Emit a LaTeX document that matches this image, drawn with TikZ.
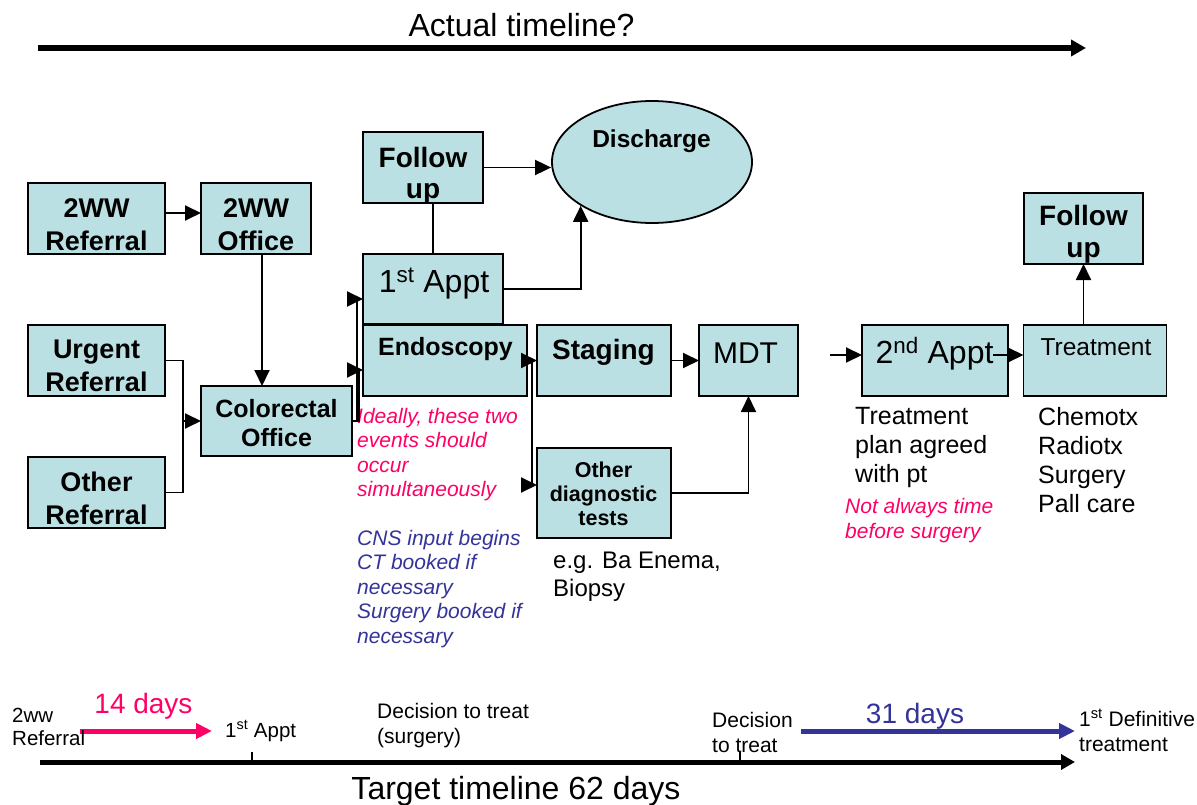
\documentclass[tikz,border=0pt]{standalone}
\usepackage{fontspec}
\setmainfont{Liberation Sans}
\usetikzlibrary{arrows.meta,shapes.geometric,calc}
\definecolor{boxfill}{RGB}{187,224,227}
\definecolor{pinkc}{RGB}{255,0,102}
\definecolor{bluec}{RGB}{51,51,153}
\newcommand\fsz[2]{\fontsize{#1}{#2}\selectfont}
\begin{document}
\begin{tikzpicture}[x=1pt,y=-1pt,
  box/.style={draw=black,line width=1.8pt,fill=boxfill,inner sep=0pt,outer sep=0pt},
  btxt/.style={font=\bfseries\fsz{27}{33},align=center,inner sep=0pt,anchor=north},
  rtxt/.style={align=left,inner sep=0pt,anchor=north west},
  conn/.style={line width=1.9pt,-{Triangle[length=16pt,width=15pt]}},
  plainline/.style={line width=1.9pt},
  thick arrow/.style={line width=5.5pt,-{Triangle[length=15pt,width=16pt]}}]
\useasboundingbox (0,0) rectangle (1197,805);

% ---------- top timeline ----------
\node[inner sep=0pt,anchor=base,font=\fsz{32}{36}] (acttxt) at (521.5,37) {Actual timeline?};
\coordinate (act0) at (38,48);
\coordinate (act1) at (1086,48);
\draw[thick arrow] (act0) -- (act1);

% ---------- boxes ----------
\node[box,minimum width=137pt,minimum height=71pt] (ref2ww) at (96.5,218.5) {};
\node[btxt] (ref2wwT) at (96.5,198) {2WW\\Referral};
\node[box,minimum width=110pt,minimum height=71pt] (off2ww) at (256,218.5) {};
\node[btxt] (off2wwT) at (256,198) {2WW\\Office};
\node[box,minimum width=137pt,minimum height=71pt] (urgref) at (96.5,360.5) {};
\node[btxt] (urgrefT) at (96.5,340) {Urgent\\Referral};
\node[box,minimum width=137pt,minimum height=71pt] (othref) at (96.5,492.5) {};
\node[btxt] (othrefT) at (96.5,472) {Other\\Referral};
\node[box,minimum width=151pt,minimum height=70pt] (colof) at (276.5,421) {};
\node[btxt,font=\bfseries\fsz{25}{29}] (colofT) at (276.5,399) {Colorectal\\Office};

\node[box,minimum width=120pt,minimum height=71pt] (fu1) at (423,167.5) {};
\node[btxt,font=\bfseries\fsz{28}{31}] (fu1T) at (423,147) {Follow\\up};
\node[ellipse,draw=black,line width=1.8pt,fill=boxfill,inner sep=0pt,minimum width=200pt,minimum height=122pt] (disch) at (652,162) {};
\node[inner sep=0pt,anchor=base,font=\bfseries\fsz{24.5}{28}] (dischT) at (651.5,148) {Discharge};

\node[box,minimum width=140pt,minimum height=70pt] (appt1) at (433,289) {};
\node[inner sep=0pt,anchor=base,font=\fsz{32}{36}] (appt1T) at (434,292) {1\textsuperscript{st} Appt};
\node[box,minimum width=164pt,minimum height=71pt] (endo) at (445,360.5) {};
\node[inner sep=0pt,anchor=base,font=\bfseries\fsz{25}{29}] (endoT) at (445.5,355) {Endoscopy};
\node[box,minimum width=134pt,minimum height=71pt] (stag) at (604,360.5) {};
\node[inner sep=0pt,anchor=base,font=\bfseries\fsz{28}{32}] (stagT) at (603.5,359) {Staging};
\node[box,minimum width=99pt,minimum height=71pt] (mdt) at (748.5,360.5) {};
\node[inner sep=0pt,anchor=base,font=\fsz{30}{34}] (mdtT) at (745.5,363) {MDT};
\node[box,minimum width=134pt,minimum height=90pt] (other) at (604,493) {};
\node[btxt,font=\bfseries\fsz{21.5}{24}] (otherT) at (603.5,462) {Other\\diagnostic\\tests};

\node[box,minimum width=146pt,minimum height=71pt] (appt2) at (935,360.5) {};
\node[inner sep=0pt,anchor=base,font=\fsz{32}{36}] (appt2T) at (934.5,363) {2\textsuperscript{nd} Appt};
\node[box,minimum width=143pt,minimum height=71pt] (treat) at (1095,360.5) {};
\node[inner sep=0pt,anchor=base,font=\fsz{24.5}{28}] (treatT) at (1096,355) {Treatment};
\node[box,minimum width=119pt,minimum height=71pt] (fu2) at (1083.5,228.5) {};
\node[btxt,font=\bfseries\fsz{28}{32}] (fu2T) at (1083.5,205) {Follow\\up};

% ---------- free texts ----------
\node[rtxt,font=\itshape\fsz{21}{24.5},text=pinkc] (ideal) at (357,408) {Ideally, these two\\events should\\occur\\simultaneously};
\node[rtxt,font=\itshape\fsz{21}{24.5},text=bluec] (cns) at (357,530) {CNS input begins\\CT booked if\\necessary\\Surgery booked if\\necessary};
\node[rtxt,font=\fsz{24}{28}] (eg) at (553,552) {e.g. Ba Enema,\\Biopsy};
\node[rtxt,font=\fsz{25}{29}] (plan) at (855,407) {Treatment\\plan agreed\\with pt};
\node[rtxt,font=\itshape\fsz{21}{25},text=pinkc] (notalw) at (845,498) {Not always time\\before surgery};
\node[rtxt,font=\fsz{25}{29}] (chemo) at (1038,407) {Chemotx\\Radiotx\\Surgery\\Pall care};

% ---------- connectors ----------
\draw[conn] (ref2ww.east |- 0,213) -- (off2ww.west |- 0,213);
\draw[conn] ([xshift=6pt]off2ww.south) -- ([xshift=6pt]off2ww.south |- colof.north);
\coordinate (brk) at (183,421);
\draw[plainline] (urgref.east) -| (brk);
\draw[plainline] (othref.east) -| (brk);
\draw[conn] (brk) -- (colof.west);
\coordinate (j1) at (357,421);
\coordinate (j2) at (359,421);
\draw[conn] (colof.east) -- (j1) |- ([yshift=-10pt]appt1.west);
\draw[conn] (colof.east) -- (j2) |- ([yshift=-9.5pt]endo.west);
\draw[plainline] (appt1.north) -- (appt1.north |- fu1.south);
\draw[conn] (fu1.east) -- (fu1.east -| disch.west);
\draw[conn] (appt1.east) -| (disch.south west);
\draw[conn] (endo.east) -- (stag.west);
\coordinate (j3) at (532,360.5);
\draw[conn] (j3) |- ([yshift=8pt]other.west);
\draw[conn] (stag.east) -- (mdt.west);
\draw[conn] (other.east) -| (mdt.south);
\coordinate (in2) at (830,355);
\draw[conn] (in2) -- (appt2.west |- in2);
\draw[conn] ([xshift=-15pt,yshift=5.5pt]appt2.east) -- ([yshift=5.5pt]treat.west);
\draw[conn] (treat.north -| fu2.south) -- (fu2.south);

% ---------- target timeline ----------
\coordinate (tl0) at (40,762);
\coordinate (tl1) at (1075,762);
\draw[line width=5pt,-{Triangle[length=14pt,width=15pt]}] (tl0) -- (tl1);
\coordinate (tk1) at (252,762);
\coordinate (tk2) at (740,762);
\draw[line width=1.2pt] (tk1) -- ++(0,-10);
\draw[line width=1.2pt] (tk2) -- ++(0,-10);
\node[inner sep=0pt,anchor=base,font=\fsz{32}{36}] (tgttxt) at (516,799) {Target timeline 62 days};

\coordinate (p0) at (80,731);
\coordinate (p1) at (212,731);
\draw[pinkc,line width=5pt,-{Triangle[length=16pt,width=15pt]}] (p0) -- (p1);
\node[inner sep=0pt,anchor=base,font=\fsz{28}{32},text=pinkc] (d14) at (143.5,713) {14 days};
\coordinate (b0) at (801,731);
\coordinate (b1) at (1075,731);
\draw[bluec,line width=5pt,-{Triangle[length=16pt,width=15pt]}] (b0) -- (b1);
\node[inner sep=0pt,anchor=base,font=\fsz{28}{32},text=bluec] (d31) at (915,723) {31 days};

\node[rtxt,font=\fsz{20.5}{23}] (l2ww) at (12,708) {2ww\\Referral};
\node[inner sep=0pt,anchor=base west,font=\fsz{20.5}{23}] (lappt) at (225,737) {1\textsuperscript{st} Appt};
\node[rtxt,font=\fsz{21}{25}] (ldec1) at (377,703) {Decision to treat\\(surgery)};
\node[rtxt,font=\fsz{21}{25}] (ldec2) at (712,712) {Decision\\to treat};
\node[rtxt,font=\fsz{21}{25}] (ldef) at (1079,709) {1\textsuperscript{st} Definitive\\treatment};
\end{tikzpicture}
\end{document}
